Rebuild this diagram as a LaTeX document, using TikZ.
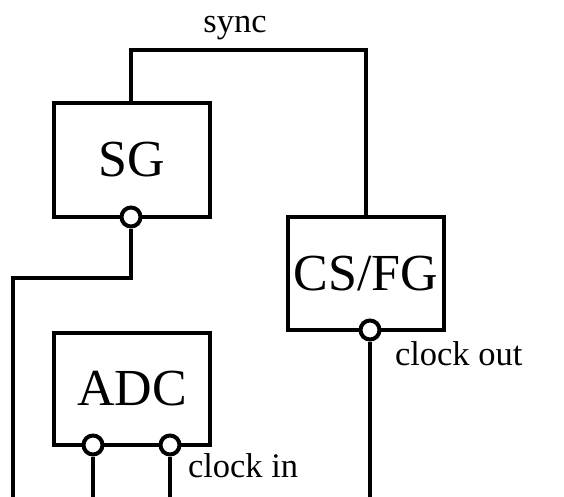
\documentclass[tikz,border=0pt]{standalone}
\usepackage{fontspec}
\setmainfont{Liberation Serif}
\begin{document}
\begin{tikzpicture}[x=1pt,y=-1pt,line width=4pt,
  box/.style={draw,rectangle,inner sep=0pt,minimum width=156pt,minimum height=113pt,font=\fontsize{52}{54}\selectfont},
  port/.style={draw,circle,fill=white,inner sep=0pt,minimum size=19pt},
  lbl/.style={font=\fontsize{34.5}{36}\selectfont,inner sep=0pt}]
\useasboundingbox (0,0) rectangle (564,497);
\node[box] (SG) at (132,160) {SG};
\node[box] (CSFG) at (366,273.5) {CS/FG};
\node[box,minimum height=112pt] (ADC) at (132,389) {ADC};
\node[port] (p1) at (131,217) {};
\node[port] (p2) at (370,330) {};
\node[port] (p3) at (93,445) {};
\node[port] (p4) at (170,445) {};
\coordinate (top) at (131,50);
\coordinate (b1) at (13,497);
\coordinate (b2) at (370,497);
\coordinate (b3) at (93,497);
\coordinate (b4) at (170,497);
\coordinate (bend) at (131,278);
\draw (SG.north -| top) -- (top) -| (CSFG.north);
\draw (p1.south) -- (bend) -| (b1);
\draw (p2.south) -- (b2);
\draw (p3.south) -- (b3);
\draw (p4.south) -- (b4);
\node[lbl,anchor=base] (sync) at (235,33) {sync};
\node[lbl,anchor=base west] (co) at (393,365) {clock out};
\node[lbl,anchor=base west] (ci) at (186,477) {clock in};
\end{tikzpicture}
\end{document}
